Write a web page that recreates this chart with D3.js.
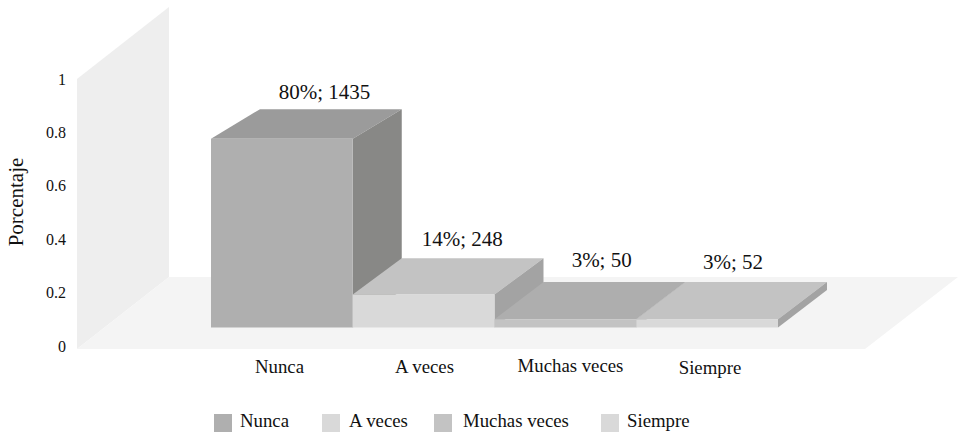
<!DOCTYPE html>
<html><head><meta charset="utf-8">
<script src="https://cdn.jsdelivr.net/npm/d3@7/dist/d3.min.js"></script>
<style>html,body{margin:0;padding:0;background:#fff}svg{display:block}text{font-family:"Liberation Serif",serif;fill:#111}</style>
</head><body><div id="c"></div>
<script>
const categories = ["Nunca", "A veces", "Muchas veces", "Siempre"];
const shares = [0.80, 0.14, 0.035, 0.035];
const percentLabels = ["80%", "14%", "3%", "3%"];
const counts = [1435, 248, 50, 52];
const yTicks = [0, 0.2, 0.4, 0.6, 0.8, 1];
const frontColors = ["#afafaf", "#d9d9d9", "#c3c3c3", "#d9d9d9"];
const topColors = ["#9b9b9b", "#c3c3c3", "#aeaeae", "#c3c3c3"];
const sideColors = ["#888886", "#a3a3a3", "#9a9a9a", "#a3a3a3"];

const W = 958, H = 434;
const svg = d3.select("#c").append("svg").attr("width", W).attr("height", H);
const poly = (pts, fill) => svg.append("polygon").attr("points", pts.map(p => p.join(",")).join(" ")).attr("fill", fill);

// wall and floor drawn from the axis ends and a depth offset
const yWall = d3.scaleLinear().domain([0, 1]).range([349, 79]);
const wallDx = 92, wallDy = 72, floorRight = 865;
const [w0, w1] = [yWall(0), yWall(1)];
poly([[77, w1], [77 + wallDx, w1 - wallDy], [77 + wallDx, w0 - wallDy], [77, w0]], "#eeeeee");
poly([[77, w0], [77 + wallDx, w0 - wallDy], [floorRight + wallDx + 1, w0 - wallDy], [floorRight, w0]], "#f4f4f4");

// bars: front and rear planes have different vertical scales (perspective)
const x = d3.scaleBand().domain(categories).range([211, 778]);
const yFront = d3.scaleLinear().domain([0, 1]).range([327.5, 91.5]);
const yBack = d3.scaleLinear().domain([0, 1]).range([290, 64]);
const depth = 49;

categories.forEach((c, i) => {
  const v = shares[i], x0 = x(c), x1 = x0 + x.bandwidth();
  poly([[x0, yFront(v)], [x1, yFront(v)], [x1 + depth, yBack(v)], [x0 + depth, yBack(v)]], topColors[i]);
  poly([[x1, yFront(v)], [x1 + depth, yBack(v)], [x1 + depth, yBack(0)], [x1, yFront(0)]], sideColors[i]);
  poly([[x0, yFront(v)], [x1, yFront(v)], [x1, yFront(0)], [x0, yFront(0)]], frontColors[i]);
});

// value axis
const yLabels = d3.scaleLinear().domain([0, 1]).range([346, 79]);
const yAxis = svg.append("g").attr("transform", "translate(66,0)")
  .call(d3.axisLeft(yLabels).tickValues(yTicks).tickSize(0).tickPadding(0).tickFormat(d3.format("~g")));
yAxis.select(".domain").remove();
yAxis.selectAll("text").style("font-family", '"Liberation Serif",serif').style("font-size", "16px");

svg.append("text").attr("transform", "translate(23,202) rotate(-90)").attr("text-anchor", "middle")
  .attr("font-size", 21).text("Porcentaje");

// category axis, with the small hand offsets of the original
const catNudgeX = [0, 1, 3, -1.5], catNudgeY = [0, 0, -1.3, 1];
const xLabels = d3.scalePoint().domain(categories).range([279, 711]);
const xAxis = svg.append("g").attr("transform", "translate(0,359.5)")
  .call(d3.axisBottom(xLabels).tickSize(0).tickPadding(0));
xAxis.select(".domain").remove();
xAxis.selectAll("text").style("font-family", '"Liberation Serif",serif').style("font-size", "18.8px")
  .attr("transform", (d, i) => `translate(${catNudgeX[i]},${catNudgeY[i]})`);

// data labels
const labelNudgeX = [0.5, 1, 3, -3], labelGap = [10, 12.4, 15, 13];
const labelX = d3.scalePoint().domain(categories).range([324, 736]);
categories.forEach((c, i) => {
  svg.append("text").attr("x", labelX(c) + labelNudgeX[i]).attr("y", yBack(shares[i]) - labelGap[i])
    .attr("text-anchor", "middle").attr("font-size", 21)
    .text(percentLabels[i] + "; " + counts[i]);
});

// legend
const legendX = d3.scaleOrdinal().domain(categories).range([214, 322, 434, 601]);
const legendText = [26, 27, 29, 26];
const legend = svg.append("g").selectAll("g").data(categories).join("g")
  .attr("transform", d => `translate(${legendX(d)},414)`);
legend.append("rect").attr("width", 18).attr("height", 18).attr("fill", (d, i) => frontColors[i]);
legend.append("text").attr("x", (d, i) => legendText[i]).attr("y", 13).attr("font-size", 18.8).text(d => d);
</script></body></html>
